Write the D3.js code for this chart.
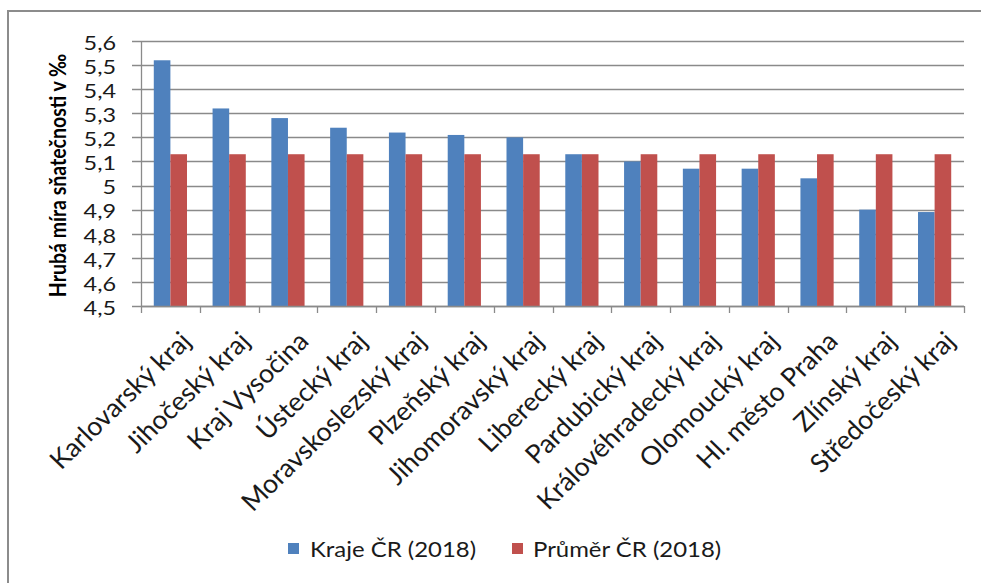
<!DOCTYPE html>
<html><head><meta charset="utf-8">
<script src="https://cdn.jsdelivr.net/npm/d3@7"></script>
<style>body{margin:0;background:#fff}svg{display:block}text{font-family:Lato,"Open Sans",sans-serif}</style>
</head><body><svg id="c" width="981" height="583"></svg>
<script>
const categories = ["Karlovarský kraj","Jihočeský kraj","Kraj Vysočina","Ústecký kraj","Moravskoslezský kraj","Plzeňský kraj","Jihomoravský kraj","Liberecký kraj","Pardubický kraj","Královéhradecký kraj","Olomoucký kraj","Hl. město Praha","Zlínský kraj","Středočeský kraj"];
const krajeValues = [5.52,5.32,5.28,5.24,5.22,5.21,5.20,5.13,5.10,5.07,5.07,5.03,4.90,4.89];
const prumerValues = [5.13,5.13,5.13,5.13,5.13,5.13,5.13,5.13,5.13,5.13,5.13,5.13,5.13,5.13];
const seriesNames = ["Kraje ČR (2018)","Průměr ČR (2018)"];
const yTicks = [4.5,4.6,4.7,4.8,4.9,5.0,5.1,5.2,5.3,5.4,5.5,5.6];
const yTitle = "Hrubá míra sňatečnosti v ‰";

const colors = ["#4F81BD","#C0504D"];
const svg = d3.select("#c");
const L = 141, R = 964, T = 41, B = 306;

svg.append("rect").attr("x",8).attr("y",11).attr("width",1000).attr("height",600)
  .attr("fill","none").attr("stroke","#8c8c8c").attr("stroke-width",2);

const x = d3.scaleBand().domain(categories).range([L,R]).paddingInner(0.435).paddingOuter(0.2175);
const x1 = d3.scaleBand().domain([0,1]).range([0,x.bandwidth()]);
const y = d3.scaleLinear().domain([4.5,5.6]).range([B,T]);

// gridlines
svg.append("g").selectAll("line").data(yTicks).join("line")
  .attr("x1",L-9).attr("x2",R).attr("y1",d=>Math.round(y(d))+0.5).attr("y2",d=>Math.round(y(d))+0.5)
  .attr("stroke","#8a8a8a").attr("stroke-width",1.3);

// y labels
svg.append("g").selectAll("text").data(yTicks).join("text")
  .attr("transform",d=>`translate(116,${y(d)+2}) scale(1.2,1)`)
  .attr("dy","0.35em").attr("text-anchor","end")
  .attr("font-size",19.5).attr("fill","#1a1a1a")
  .text(d=>d3.format(".1f")(d).replace(/\.0$/,"").replace(".",","));

// bars
const series = [krajeValues, prumerValues];
series.forEach((vals,si)=>{
  svg.append("g").selectAll("rect").data(vals).join("rect")
    .attr("x",(d,i)=>x(categories[i])+x1(si))
    .attr("width",x1.bandwidth())
    .attr("y",d=>y(d)).attr("height",d=>B-y(d))
    .attr("fill",colors[si]);
});

// axes lines
svg.append("line").attr("x1",L+0.5).attr("x2",L+0.5).attr("y1",T).attr("y2",B).attr("stroke","#8a8a8a").attr("stroke-width",1.3);
svg.append("line").attr("x1",L).attr("x2",R).attr("y1",B+0.5).attr("y2",B+0.5).attr("stroke","#8a8a8a").attr("stroke-width",1.3);
const bounds = d3.range(categories.length+1).map(i=>L + (R-L)*i/categories.length);
svg.append("g").selectAll("line").data(bounds).join("line")
  .attr("x1",d=>Math.round(d)+0.5).attr("x2",d=>Math.round(d)+0.5).attr("y1",B).attr("y2",B+7)
  .attr("stroke","#8a8a8a").attr("stroke-width",1.3);

// x labels
svg.append("g").selectAll("text").data(categories).join("text")
  .attr("transform",d=>`translate(${x(d)+x.bandwidth()/2+9},${B+24}) scale(1.03,1) rotate(-45)`)
  .attr("text-anchor","end").attr("dy","0.7em").attr("font-size",26).attr("fill","#1a1a1a")
  .text(d=>d);

// y title
svg.append("text").attr("transform",`translate(58,${(T+B)/2+2}) scale(1.15,1) rotate(-90)`)
  .attr("text-anchor","middle").attr("dy","0.35em").attr("font-size",19.5).attr("font-weight","bold")
  .text(yTitle);

// legend
const leg = [{x:288, tx:310},{x:512, tx:533}];
leg.forEach((p,i)=>{
  svg.append("rect").attr("x",p.x).attr("y",543).attr("width",11).attr("height",11).attr("fill",colors[i]);
  svg.append("text").attr("transform",`translate(${p.tx},550) scale(1.14,1)`).attr("dy","0.35em")
    .attr("font-size",21).attr("fill","#1a1a1a").text(seriesNames[i]);
});
</script></body></html>
